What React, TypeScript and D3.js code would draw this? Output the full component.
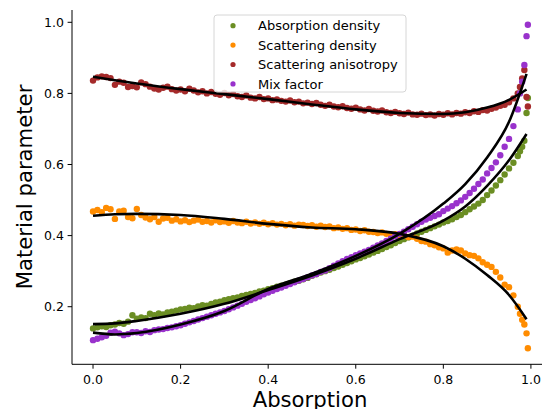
import React from "react";
import * as d3 from "d3";

const absorption = [
  0.00,0.01,0.02,0.03,0.04,0.05,0.06,0.07,0.08,0.09,
  0.10,0.11,0.12,0.13,0.14,0.15,0.16,0.17,0.18,0.19,
  0.20,0.21,0.22,0.23,0.24,0.25,0.26,0.27,0.28,0.29,
  0.30,0.31,0.32,0.33,0.34,0.35,0.36,0.37,0.38,0.39,
  0.40,0.41,0.42,0.43,0.44,0.45,0.46,0.47,0.48,0.49,
  0.50,0.51,0.52,0.53,0.54,0.55,0.56,0.57,0.58,0.59,
  0.60,0.61,0.62,0.63,0.64,0.65,0.66,0.67,0.68,0.69,
  0.70,0.71,0.72,0.73,0.74,0.75,0.76,0.77,0.78,0.79,
  0.80,0.81,0.82,0.83,0.84,0.85,0.86,0.87,0.88,0.89,
  0.90,0.91,0.92,0.93,0.94,0.95,0.96,0.97,0.975,0.98,
  0.985,0.99,0.993
];

const absorptionDensity = [
  0.139,0.142,0.145,0.143,0.148,0.150,0.154,0.152,0.158,0.176,
  0.166,0.170,0.168,0.180,0.176,0.181,0.178,0.184,0.186,0.189,
  0.192,0.194,0.197,0.196,0.201,0.204,0.203,0.208,0.212,0.214,
  0.218,0.221,0.224,0.226,0.230,0.233,0.236,0.239,0.243,0.245,
  0.249,0.252,0.256,0.259,0.262,0.266,0.270,0.273,0.277,0.281,
  0.287,0.291,0.296,0.300,0.304,0.309,0.313,0.318,0.323,0.328,
  0.333,0.337,0.342,0.347,0.352,0.357,0.362,0.368,0.373,0.379,
  0.385,0.390,0.395,0.400,0.406,0.411,0.416,0.421,0.426,0.431,
  0.437,0.441,0.446,0.452,0.458,0.466,0.474,0.482,0.490,0.500,
  0.514,0.527,0.541,0.556,0.572,0.589,0.605,0.624,0.637,0.650,
  0.667,0.745,0.787
];

const scatteringDensity = [
  0.468,0.472,0.466,0.478,0.474,0.447,0.468,0.470,0.452,0.449,
  0.475,0.458,0.451,0.446,0.452,0.439,0.448,0.450,0.442,0.446,
  0.440,0.443,0.438,0.442,0.445,0.439,0.441,0.437,0.443,0.438,
  0.440,0.436,0.441,0.437,0.435,0.439,0.434,0.437,0.433,0.436,
  0.432,0.435,0.431,0.433,0.429,0.432,0.428,0.431,0.430,0.427,
  0.429,0.425,0.428,0.424,0.426,0.421,0.423,0.419,0.421,0.416,
  0.417,0.413,0.415,0.411,0.410,0.407,0.409,0.405,0.403,0.404,
  0.400,0.401,0.396,0.397,0.391,0.385,0.383,0.376,0.373,0.367,
  0.364,0.352,0.358,0.361,0.358,0.350,0.345,0.343,0.336,0.325,
  0.318,0.312,0.298,0.282,0.262,0.255,0.232,0.200,0.180,0.163,
  0.150,0.125,0.083
];

const scatteringAnisotropy = [
  0.836,0.845,0.848,0.846,0.843,0.824,0.833,0.830,0.818,0.821,
  0.817,0.831,0.826,0.819,0.814,0.811,0.816,0.819,0.812,0.808,
  0.811,0.806,0.813,0.808,0.803,0.806,0.800,0.804,0.799,0.796,
  0.801,0.795,0.798,0.792,0.790,0.794,0.788,0.786,0.790,0.784,
  0.786,0.781,0.783,0.779,0.777,0.780,0.775,0.777,0.772,0.774,
  0.770,0.773,0.768,0.765,0.768,0.763,0.761,0.764,0.759,0.757,
  0.760,0.755,0.752,0.756,0.751,0.749,0.752,0.747,0.745,0.748,
  0.744,0.742,0.746,0.741,0.740,0.743,0.739,0.741,0.738,0.742,
  0.740,0.744,0.741,0.745,0.743,0.747,0.745,0.750,0.748,0.753,
  0.752,0.757,0.760,0.765,0.768,0.775,0.786,0.800,0.818,0.842,
  0.866,0.790,0.763
];

const mixFactor = [
  0.106,0.110,0.114,0.118,0.127,0.130,0.125,0.120,0.123,0.128,
  0.128,0.126,0.131,0.129,0.134,0.136,0.137,0.140,0.142,0.145,
  0.148,0.152,0.156,0.160,0.164,0.168,0.172,0.176,0.180,0.184,
  0.188,0.193,0.198,0.203,0.208,0.214,0.219,0.224,0.229,0.235,
  0.240,0.245,0.250,0.254,0.259,0.264,0.269,0.274,0.278,0.283,
  0.288,0.292,0.298,0.302,0.308,0.315,0.322,0.328,0.334,0.339,
  0.345,0.350,0.355,0.360,0.366,0.372,0.378,0.385,0.391,0.398,
  0.405,0.411,0.418,0.425,0.432,0.439,0.445,0.450,0.455,0.460,
  0.469,0.476,0.483,0.491,0.499,0.509,0.520,0.532,0.545,0.558,
  0.575,0.590,0.606,0.626,0.650,0.672,0.708,0.755,0.800,0.833,
  0.880,0.961,0.993
];

// fitted curves (read at sample abscissae)
const fitX = [0, 0.05, 0.1, 0.2, 0.3, 0.4, 0.5, 0.6, 0.7, 0.8, 0.85, 0.9, 0.95, 0.99];
const fitAbsorptionDensity = [0.151, 0.153, 0.160, 0.180, 0.208, 0.247, 0.288, 0.335, 0.390, 0.442, 0.482, 0.540, 0.612, 0.686];
const fitScatteringDensity = [0.456, 0.460, 0.461, 0.458, 0.447, 0.433, 0.423, 0.418, 0.405, 0.370, 0.335, 0.289, 0.233, 0.165];
const fitScatteringAnisotropy = [0.847, 0.837, 0.828, 0.812, 0.798, 0.784, 0.769, 0.755, 0.745, 0.742, 0.747, 0.760, 0.782, 0.811];
const fitMixFactor = [0.127, 0.122, 0.126, 0.150, 0.188, 0.250, 0.293, 0.343, 0.405, 0.490, 0.545, 0.620, 0.720, 0.855];

const seriesNames = ["Absorption density", "Scattering density", "Scattering anisotropy", "Mix factor"];
const seriesColors = ["#6b8e23", "#ff8c00", "#a52a2a", "#9932cc"];
const seriesValues = [absorptionDensity, scatteringDensity, scatteringAnisotropy, mixFactor];
const fitValues = [fitAbsorptionDensity, fitScatteringDensity, fitScatteringAnisotropy, fitMixFactor];

const xTicks = [0, 0.2, 0.4, 0.6, 0.8, 1.0];
const yTicks = [0.2, 0.4, 0.6, 0.8, 1.0];

export default function App() {
  const W = 542, H = 409;
  const x = d3.scaleLinear().domain([-0.048, 1.039]).range([72, 548]);
  const y = d3.scaleLinear().domain([0.038, 1.0346]).range([364.3, 10]);
  const font = "DejaVu Sans, sans-serif";
  const line = d3.line<number>()
    .x((_, i) => x(fitX[i]))
    .y((d) => y(d))
    .curve(d3.curveMonotoneX);

  return (
    <svg width={W} height={H} style={{ position: "absolute", left: 0, top: 0, display: "block" }}>
      <rect x={0} y={0} width={W} height={H} fill="#fff" />
      {seriesValues.map((vals, s) => (
        <g key={s} fill={seriesColors[s]}>
          {vals.map((v, i) => (
            <circle key={i} cx={x(absorption[i])} cy={y(v)} r={3.2} />
          ))}
        </g>
      ))}
      {fitValues.map((vals, s) => (
        <path key={s} d={line(vals) || ""} fill="none" stroke="#000" strokeWidth={2.6} />
      ))}
      {/* axes */}
      <line x1={72} y1={364.3} x2={548} y2={364.3} stroke="#000" strokeWidth={1} />
      <line x1={72} y1={10} x2={72} y2={364.3} stroke="#000" strokeWidth={1} />
      {xTicks.map((t) => (
        <g key={t}>
          <line x1={x(t)} x2={x(t)} y1={364.3} y2={368.7} stroke="#000" strokeWidth={1} />
          <text x={x(t)} y={383.5} textAnchor="middle" fontFamily={font} fontSize={12.5} fill="#000">
            {t.toFixed(1)}
          </text>
        </g>
      ))}
      {yTicks.map((t) => (
        <g key={t}>
          <line x1={67.6} x2={72} y1={y(t)} y2={y(t)} stroke="#000" strokeWidth={1} />
          <text x={64} y={y(t) + 4.5} textAnchor="end" fontFamily={font} fontSize={12.5} fill="#000">
            {t.toFixed(1)}
          </text>
        </g>
      ))}
      <text x={310} y={406.5} textAnchor="middle" fontFamily={font} fontSize={21.2} fill="#000">Absorption</text>
      <text transform={`translate(31.5, 187) rotate(-90)`} textAnchor="middle" fontFamily={font} fontSize={21.2} fill="#000">
        Material parameter
      </text>
      {/* legend */}
      <g>
        <rect x={214} y={15} width={192} height={77} rx={3} fill="#fff" fillOpacity={0.8} stroke="#d6d6d6" strokeWidth={1} />
        {seriesNames.map((n, i) => (
          <g key={n}>
            <circle cx={233} cy={25.7 + i * 19.4} r={2.6} fill={seriesColors[i]} />
            <text x={258} y={25.7 + i * 19.4 + 4.6} fontFamily={font} fontSize={13} fill="#000">{n}</text>
          </g>
        ))}
      </g>
    </svg>
  );
}
